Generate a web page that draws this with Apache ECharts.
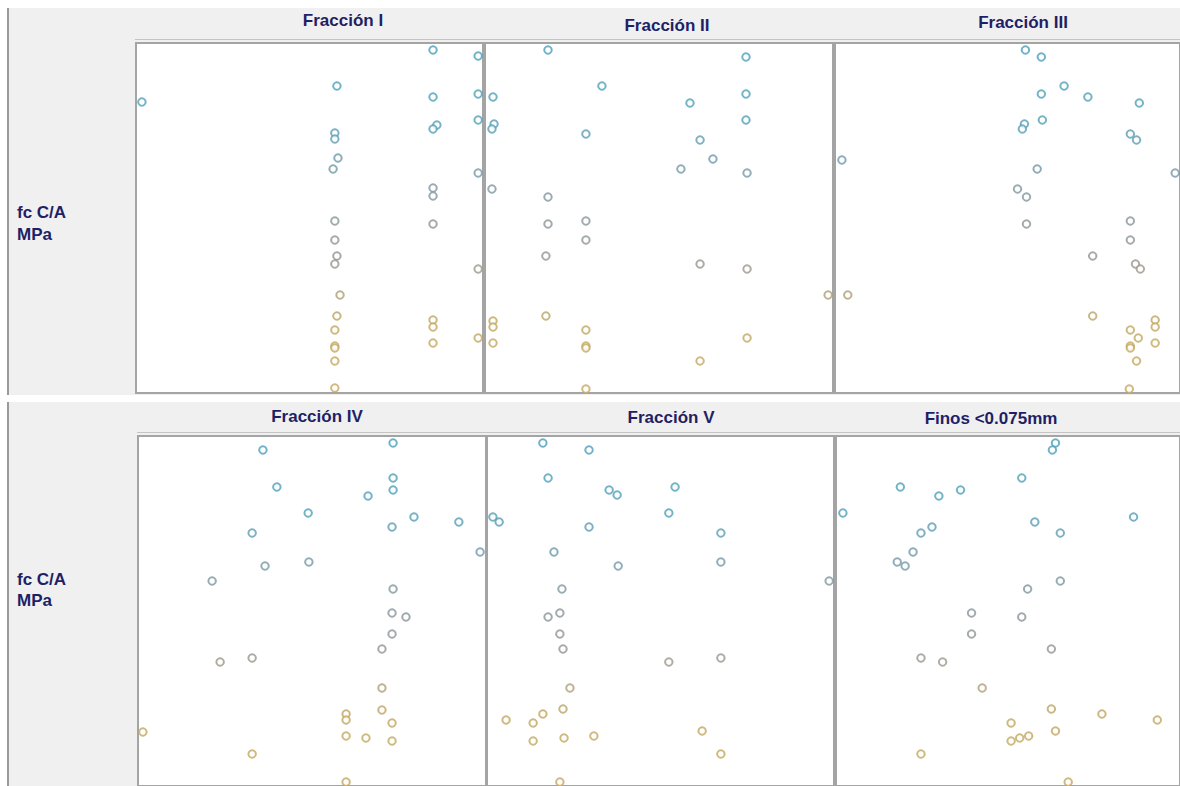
<!DOCTYPE html>
<html>
<head>
<meta charset="utf-8">
<script src="https://cdn.jsdelivr.net/npm/echarts@6/dist/echarts.min.js"></script>
<style>
  html, body { margin: 0; padding: 0; background: #fff; }
  #main { width: 1180px; height: 786px; }
</style>
</head>
<body>
<div id="main"></div>
<script>
// nombres de los paneles
var panelNames = ['Fracción I', 'Fracción II', 'Fracción III', 'Fracción IV', 'Fracción V', 'Finos <0.075mm']

// [x, fc C/A MPa]
var fraccionI = [[85.6, 49.3], [98.6, 48.7], [57.9, 45.7], [1.7, 44.1], [85.6, 44.6], [98.6, 44.9], [57.3, 41.0], [57.3, 40.4], [86.7, 41.8], [85.6, 41.4], [98.6, 42.3], [58.2, 38.5], [56.8, 37.4], [98.6, 37.0], [85.6, 35.5], [85.6, 34.7], [57.3, 32.2], [85.6, 31.9], [57.3, 30.3], [57.9, 28.7], [57.3, 27.9], [98.6, 27.4], [58.8, 24.8], [57.9, 22.7], [85.6, 22.3], [85.6, 21.6], [57.3, 21.3], [57.3, 19.7], [57.3, 19.5], [85.6, 20.0], [98.6, 20.5], [57.3, 18.2], [57.3, 15.5]]
var fraccionII = [[18.1, 49.3], [75.0, 48.6], [33.6, 45.7], [2.3, 44.6], [58.9, 44.0], [75.0, 44.9], [2.6, 41.9], [2.0, 41.4], [75.0, 42.3], [29.0, 40.9], [61.8, 40.3], [65.5, 38.4], [56.3, 37.4], [75.3, 37.0], [2.0, 35.4], [18.1, 34.6], [18.1, 31.9], [29.0, 32.2], [29.0, 30.3], [17.5, 28.7], [61.8, 27.9], [75.3, 27.4], [98.6, 24.8], [17.5, 22.7], [2.3, 22.2], [2.3, 21.6], [29.0, 21.3], [2.3, 20.0], [75.3, 20.5], [29.0, 19.7], [29.0, 19.5], [61.8, 18.2], [29.0, 15.4]]
var fraccionIII = [[55.2, 49.3], [59.8, 48.6], [66.4, 45.7], [59.8, 44.9], [73.3, 44.6], [88.2, 44.0], [54.9, 41.9], [54.3, 41.4], [60.1, 42.3], [85.6, 40.9], [87.4, 40.3], [2.0, 38.3], [58.6, 37.4], [98.6, 37.0], [52.9, 35.4], [55.5, 34.6], [55.5, 31.9], [85.6, 32.2], [85.6, 30.3], [74.7, 28.7], [87.1, 27.9], [88.5, 27.4], [3.7, 24.8], [74.7, 22.7], [92.8, 22.3], [92.8, 21.6], [85.6, 21.3], [87.9, 20.5], [92.8, 20.0], [85.6, 19.7], [85.6, 19.5], [87.4, 18.2], [85.3, 15.4]]
var fraccionIV = [[73.3, 49.3], [35.9, 48.6], [73.3, 45.8], [73.3, 44.6], [39.9, 44.9], [66.1, 44.0], [48.9, 42.3], [79.3, 41.9], [92.2, 41.4], [73.0, 40.9], [32.8, 40.3], [98.3, 38.4], [36.5, 37.0], [49.1, 37.4], [21.3, 35.5], [73.3, 34.7], [73.0, 32.3], [77.0, 31.9], [73.0, 30.2], [70.1, 28.7], [32.8, 27.8], [23.6, 27.4], [70.1, 24.8], [70.1, 22.6], [59.8, 22.2], [59.8, 21.6], [73.0, 21.3], [1.4, 20.4], [59.8, 20.0], [65.5, 19.8], [73.0, 19.5], [32.8, 18.2], [59.8, 15.4]]
var fraccionV = [[16.1, 49.3], [29.4, 48.6], [17.6, 45.8], [35.2, 44.6], [37.5, 44.1], [54.2, 44.9], [1.7, 41.9], [3.5, 41.4], [52.4, 42.3], [29.4, 40.9], [67.4, 40.3], [19.3, 38.4], [37.8, 37.0], [67.4, 37.4], [98.6, 35.5], [21.6, 34.7], [17.6, 31.9], [21.0, 32.3], [21.0, 30.2], [21.9, 28.7], [52.4, 27.4], [67.4, 27.8], [23.9, 24.8], [21.9, 22.7], [16.1, 22.2], [5.5, 21.6], [13.3, 21.3], [13.3, 19.5], [22.2, 19.8], [30.8, 20.0], [62.0, 20.5], [67.4, 18.2], [21.0, 15.4]]
var finos = [[63.8, 49.3], [62.9, 48.6], [54.0, 45.8], [18.7, 44.9], [29.9, 44.0], [36.2, 44.6], [2.0, 42.3], [86.5, 41.9], [57.8, 41.4], [65.2, 40.3], [24.7, 40.3], [27.9, 40.9], [22.4, 38.4], [17.8, 37.4], [20.1, 37.0], [65.2, 35.5], [55.7, 34.7], [39.4, 32.3], [54.0, 31.9], [39.4, 30.2], [62.6, 28.7], [24.7, 27.8], [31.0, 27.4], [42.5, 24.8], [62.6, 22.7], [77.3, 22.2], [93.4, 21.6], [50.9, 21.3], [63.8, 20.5], [50.9, 19.5], [53.4, 19.8], [56.0, 20.0], [24.7, 18.2], [67.5, 15.4]]

var panelData = [fraccionI, fraccionII, fraccionIII, fraccionIV, fraccionV, finos]

// escalas
var xMin = 0
var xMax = 100
var yMin = 15
var yMax = 50

var myChart = echarts.init(document.getElementById('main'), null, { renderer: 'svg' })

// posicion de cada panel (px)
var boxes = [
  { left: 136, top: 43, width: 347, height: 350 },
  { left: 485, top: 43, width: 348, height: 350 },
  { left: 835, top: 43, width: 348, height: 350 },
  { left: 138, top: 436, width: 348, height: 350 },
  { left: 487, top: 436, width: 347, height: 350 },
  { left: 836, top: 436, width: 348, height: 350 }
]
var titlePos = [[343, 20], [667, 25], [1023, 22], [317, 416], [671, 417], [991, 418]]

var grids = []
var xAxes = []
var yAxes = []
var series = []
var graphics = [
  // franjas blancas y linea izquierda
  { type: 'rect', shape: { x: 0, y: 0, width: 1180, height: 8 }, style: { fill: '#fff' }, z: -10 },
  { type: 'rect', shape: { x: 0, y: 395, width: 1180, height: 7 }, style: { fill: '#fff' }, z: -10 },
  { type: 'rect', shape: { x: 0, y: 0, width: 7, height: 786 }, style: { fill: '#fff' }, z: -10 },
  { type: 'rect', shape: { x: 7, y: 8, width: 2, height: 387 }, style: { fill: '#9a9a9a' }, z: -9 },
  { type: 'rect', shape: { x: 7, y: 402, width: 2, height: 384 }, style: { fill: '#9a9a9a' }, z: -9 },
  // borde superior doble de cada fila
  { type: 'rect', shape: { x: 135, y: 39, width: 1050, height: 1 }, style: { fill: '#c4c4c4' }, z: 50 },
  { type: 'rect', shape: { x: 137, y: 432, width: 1050, height: 1 }, style: { fill: '#c4c4c4' }, z: 50 }
]

panelData.forEach(function (d, i) {
  var b = boxes[i]
  grids.push({
    left: b.left,
    top: b.top,
    width: b.width,
    height: b.height,
    show: true,
    backgroundColor: '#fff',
    borderColor: '#a4a4a4',
    borderWidth: 2
  })
  xAxes.push({
    gridIndex: i,
    type: 'value',
    min: xMin,
    max: xMax,
    axisLine: { show: false },
    axisTick: { show: false },
    axisLabel: { show: false },
    splitLine: { show: false }
  })
  yAxes.push({
    gridIndex: i,
    type: 'value',
    min: yMin,
    max: yMax,
    axisLine: { show: false },
    axisTick: { show: false },
    axisLabel: { show: false },
    splitLine: { show: false }
  })
  series.push({
    name: panelNames[i],
    type: 'scatter',
    xAxisIndex: i,
    yAxisIndex: i,
    symbol: 'emptyCircle',
    symbolSize: 7.5,
    itemStyle: { borderWidth: 1.1 },
    data: d
  })
  graphics.push({
    type: 'text',
    x: titlePos[i][0],
    y: titlePos[i][1],
    style: {
      text: panelNames[i],
      align: 'center',
      verticalAlign: 'middle',
      font: 'bold 17px "Liberation Sans", Arial, sans-serif',
      fill: '#1f1f66'
    }
  })
})

// etiqueta del eje y, una por fila
;[[212, 234], [579, 600]].forEach(function (p) {
  graphics.push({ type: 'text', x: 17, y: p[0], style: { text: 'fc C/A', verticalAlign: 'middle', font: 'bold 17px "Liberation Sans", Arial, sans-serif', fill: '#1f1f66' } })
  graphics.push({ type: 'text', x: 17, y: p[1], style: { text: 'MPa', verticalAlign: 'middle', font: 'bold 17px "Liberation Sans", Arial, sans-serif', fill: '#1f1f66' } })
})

var option = {
  backgroundColor: '#f0f0f0',
  animation: false,
  grid: grids,
  xAxis: xAxes,
  yAxis: yAxes,
  visualMap: {
    show: false,
    type: 'continuous',
    dimension: 1,
    seriesIndex: [0, 1, 2, 3, 4, 5],
    min: 15,
    max: 49.3,
    inRange: {
      color: ['#c6a85e', '#c2a65c', '#939393', '#8096a0', '#4fa0b8', '#4a9fbb']
    }
  },
  graphic: graphics,
  series: series
}
myChart.setOption(option)
</script>
</body>
</html>
